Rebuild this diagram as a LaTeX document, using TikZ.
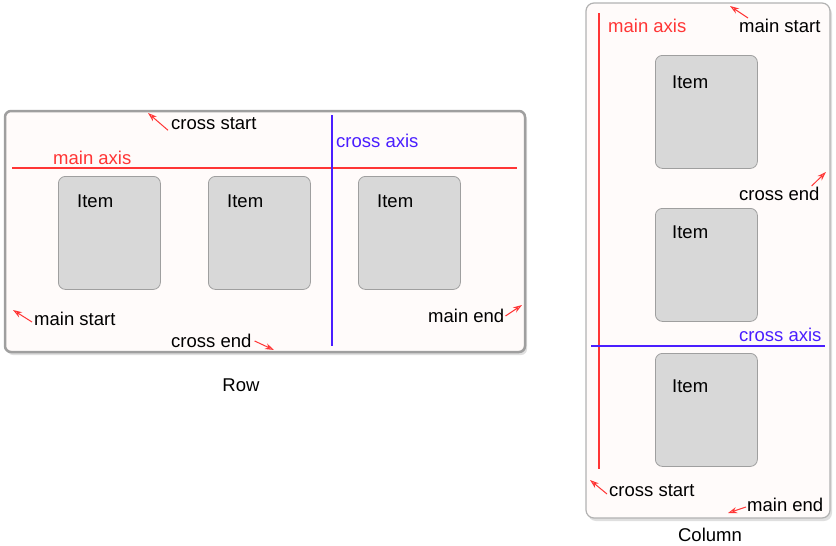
\documentclass[tikz,border=0pt]{standalone}
\usepackage{fontspec}
\setmainfont{Liberation Sans}
\usepackage{xcolor}
\usetikzlibrary{arrows.meta}
\definecolor{boxfill}{HTML}{FFFBFA}
\definecolor{itemfill}{HTML}{D8D8D8}
\definecolor{axisred}{HTML}{FF3535}
\definecolor{axisblue}{HTML}{4A1EFF}

\begin{document}
\begin{tikzpicture}[x=1pt, y=-1pt, font=\fontsize{18.5}{22}\selectfont,
  item/.style={draw=gray!75, line width=0.8pt, fill=itemfill, rounded corners=7pt,
    minimum width=102pt, minimum height=113pt, anchor=north west, inner sep=0pt},
  tag/.style={anchor=west, inner sep=0pt},
  ptr/.style={draw=axisred, line width=1pt, -{Stealth[open, length=9pt, width=6pt]}}]
\useasboundingbox (0,0) rectangle (836,546);

% row container
\fill[gray!25, rounded corners=6pt] (7,114) rectangle (527,355);
\draw[gray!75, line width=2.5pt, fill=boxfill, rounded corners=6pt] (5,111) rectangle (525,352);
\foreach \x in {58,208,358} {
  \node[item] (ri\x) at (\x,176) {};
  \node[tag] (rt\x) at (\x+19,201) {Item};
}
\draw[axisred, line width=1.5pt] (12,168) -- (517,168);
\draw[axisblue, line width=1.5pt] (332,115) -- (332,346);
\node[tag, text=axisred] (rmainaxis) at (53,158) {main axis};
\node[tag, text=axisblue] (rcrossaxis) at (336,141) {cross axis};

\node[tag] (rcs) at (171,124) {cross start};
\node[tag] (rms) at (34,319) {main start};
\node[tag] (rce) at (171,341) {cross end};
\node[tag] (rme) at (428,316) {main end};
\coordinate (rcs-tip) at (148,113);
\coordinate (rms-tip) at (13,310);
\coordinate (rce-tip) at (274,350);
\coordinate (rme-tip) at (522,305);
\draw[ptr] ([xshift=-3pt]rcs.south west) -- (rcs-tip);
\draw[ptr] ([xshift=-2pt,yshift=-3pt]rms.west) -- (rms-tip);
\draw[ptr] ([xshift=3pt]rce.east) -- (rce-tip);
\draw[ptr] ([xshift=1pt]rme.east) -- (rme-tip);
\node (rowname) at (241,385) {Row};

% column container
\fill[gray!25, rounded corners=8pt] (588,6) rectangle (832,521);
\draw[gray!60, line width=1.2pt, fill=boxfill, rounded corners=8pt] (586,3) rectangle (830,518);
\foreach \y/\t in {55/82,208/232,353/386} {
  \node[item] (ci\y) at (655,\y) {};
  \node[tag] (ct\y) at (672,\t) {Item};
}
\draw[axisred, line width=1.5pt] (599,13) -- (599,469);
\draw[axisblue, line width=1.5pt] (591,346) -- (825,346);
\node[tag, text=axisred] (cmainaxis) at (608,26) {main axis};
\node[tag, text=axisblue] (ccrossaxis) at (739,335) {cross axis};

\node[tag] (cms) at (739,26) {main start};
\node[tag] (cce) at (739,194) {cross end};
\node[tag] (ccs) at (609,491) {cross start};
\node[tag] (cme) at (747,505) {main end};
\coordinate (cms-tip) at (730,6);
\coordinate (cce-tip) at (826,172);
\coordinate (ccs-tip) at (590,480);
\coordinate (cme-tip) at (728,513);
\draw[ptr] ([xshift=9pt,yshift=1pt]cms.north west) -- (cms-tip);
\draw[ptr] ([xshift=-8pt,yshift=1pt]cce.north east) -- (cce-tip);
\draw[ptr] ([xshift=-2pt,yshift=-3pt]ccs.west) -- (ccs-tip);
\draw[ptr] ([xshift=-1pt,yshift=-2pt]cme.west) -- (cme-tip);
\node[inner sep=0pt] (colname) at (710,535) {Column};
\end{tikzpicture}
\end{document}
